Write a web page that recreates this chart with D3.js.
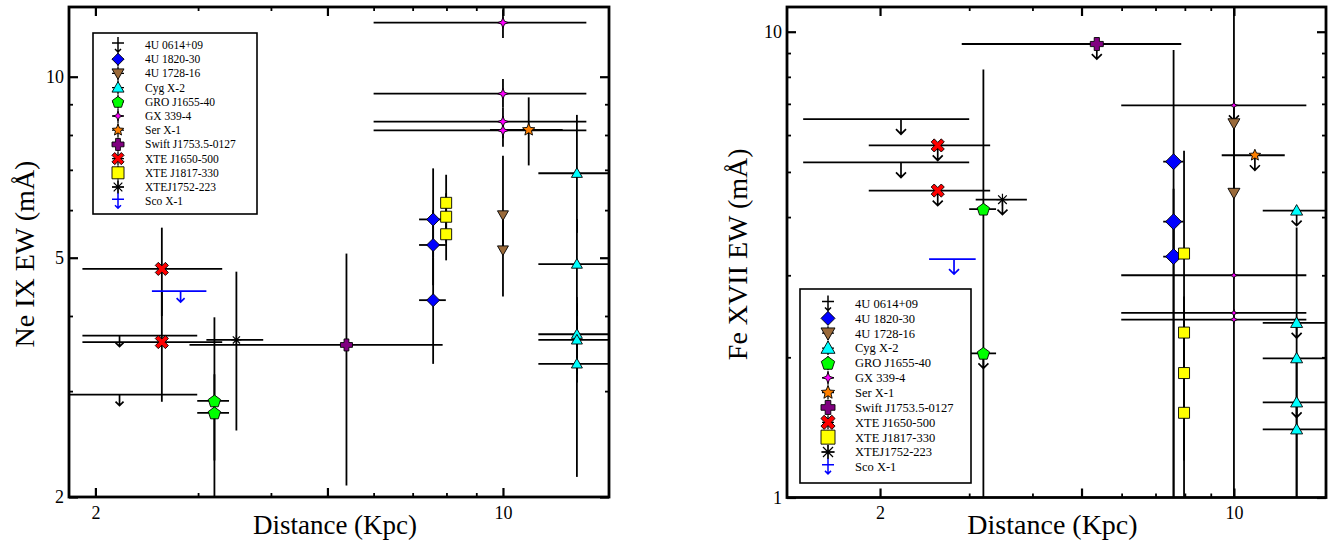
<!DOCTYPE html>
<html>
<head>
<meta charset="utf-8">
<script src="https://cdn.jsdelivr.net/npm/d3@7"></script>
<style>
  body { margin: 0; background: #fff; }
  text { font-family: "Liberation Serif", "Times New Roman", serif; fill: #000; }
</style>
</head>
<body>
<div class="chart"></div>
<script>
// sources, in legend order
const sourceNames = ['4U 0614+09', '4U 1820-30', '4U 1728-16', 'Cyg X-2', 'GRO J1655-40', 'GX 339-4',
  'Ser X-1', 'Swift J1753.5-0127', 'XTE J1650-500', 'XTE J1817-330', 'XTEJ1752-223', 'Sco X-1'];

// Ne IX panel (distance in kpc, EW in mA), upper = 1 means upper limit
const neSrc = ['4U 0614+09', '4U 0614+09', 'XTE J1650-500', 'XTE J1650-500', 'Sco X-1',
  'GRO J1655-40', 'GRO J1655-40', 'XTEJ1752-223', 'Swift J1753.5-0127',
  '4U 1820-30', '4U 1820-30', '4U 1820-30', 'XTE J1817-330', 'XTE J1817-330', 'XTE J1817-330',
  'GX 339-4', 'GX 339-4', 'GX 339-4', 'GX 339-4', '4U 1728-16', '4U 1728-16', 'Ser X-1',
  'Cyg X-2', 'Cyg X-2', 'Cyg X-2', 'Cyg X-2', 'Cyg X-2'];
const neDist   = [2.20, 2.20, 2.60, 2.60, 2.80, 3.20, 3.20, 3.49, 5.39, 7.59, 7.59, 7.59, 7.99, 7.99, 7.99,
  10, 10, 10, 10, 10, 10, 11.07, 13.39, 13.39, 13.39, 13.39, 13.39];
const neDistLo = [1.90, 1.70, 1.90, 1.90, 2.50, 2.99, 2.99, 3.10, 2.90, 7.18, 7.18, 7.18, null, null, null,
  6.0, 6.0, 6.0, 6.0, null, null, 9.50, 11.5, 11.5, 11.5, 11.5, 11.5];
const neDistHi = [2.99, 2.99, 3.30, 3.30, 3.10, 3.39, 3.39, 3.88, 7.88, 7.98, 7.98, 7.98, null, null, null,
  13.9, 13.9, 13.9, 13.9, null, null, 12.66, 16, 16, 16, 16, 16];
const neEW   = [3.71, 2.96, 4.79, 3.62, 4.40, 2.89, 2.76, 3.65, 3.58, 5.79, 5.25, 4.25, 6.17, 5.85, 5.47,
  12.3, 9.37, 8.42, 8.14, 5.89, 5.15, 8.16, 6.91, 4.88, 3.73, 3.65, 3.33];
const neEWLo = [null, null, 4.0, 2.88, null, 2.3, 1.8, 2.58, 2.09, 5.0, 4.5, 3.33, 5.6, 5.3, 4.95,
  11.6, 8.9, 7.9, 7.65, 5.2, 4.31, 7.12, 5.5, 4.0, 3.2, 3.1, 2.16];
const neEWHi = [null, null, 5.61, 4.4, null, 3.98, 3.2, 4.74, 5.08, 7.04, 6.0, 5.0, 6.87, 6.4, 6.0,
  12.93, 9.91, 8.9, 8.6, 7.39, 5.9, 9.24, 8.64, 5.8, 4.3, 4.2, 3.9];
const neUpper = [1, 1, 0, 0, 1, 0, 0, 0, 0, 0, 0, 0, 0, 0, 0, 0, 0, 0, 0, 0, 0, 0, 0, 0, 0, 0, 0];

// Fe XVII panel
const feSrc = ['4U 0614+09', '4U 0614+09', 'XTE J1650-500', 'XTE J1650-500', 'Sco X-1',
  'GRO J1655-40', 'GRO J1655-40', 'XTEJ1752-223', 'Swift J1753.5-0127',
  '4U 1820-30', '4U 1820-30', '4U 1820-30', 'XTE J1817-330', 'XTE J1817-330', 'XTE J1817-330', 'XTE J1817-330',
  'GX 339-4', 'GX 339-4', 'GX 339-4', 'GX 339-4', '4U 1728-16', '4U 1728-16', 'Ser X-1',
  'Cyg X-2', 'Cyg X-2', 'Cyg X-2', 'Cyg X-2', 'Cyg X-2'];
const feDist   = [2.20, 2.20, 2.60, 2.60, 2.80, 3.20, 3.20, 3.49, 5.36, 7.60, 7.60, 7.60, 7.97, 7.97, 7.97, 7.97,
  10, 10, 10, 10, 10, 10, 11.0, 13.3, 13.3, 13.3, 13.3, 13.3];
const feDistLo = [1.41, 1.41, 1.90, 1.90, 2.50, 3.0, 3.0, 3.09, 2.90, 7.25, 7.25, 7.25, null, null, null, null,
  5.99, 5.99, 5.99, 5.99, null, null, 9.46, 11.4, 11.4, 11.4, 11.4, 11.4];
const feDistHi = [3.0, 3.0, 3.30, 3.30, 3.09, 3.39, 3.39, 3.90, 7.87, 7.95, 7.95, 7.95, null, null, null, null,
  13.9, 13.9, 13.9, 13.9, null, null, 12.6, 16, 16, 16, 16, 16];
const feEW   = [6.49, 5.24, 5.70, 4.56, 3.25, 4.16, 2.04, 4.36, 9.41, 5.26, 3.91, 3.29, 3.34, 2.26, 1.85, 1.52,
  6.95, 3.0, 2.49, 2.41, 6.36, 4.51, 5.43, 4.13, 2.37, 1.99, 1.60, 1.40];
const feEWLo = [null, null, null, null, null, 0.8, null, null, null, 0.8, 3.3, 0.8, 0.8, 1.9, 1.5, 1.2,
  null, null, null, null, 4.6, 0.8, null, null, null, 0.8, null, 0.8];
const feEWHi = [null, null, null, null, null, 8.30, null, null, null, 9.14, 4.6, 3.9, 5.55, 2.7, 2.2, 1.8,
  null, null, null, null, 15, 6.3, null, null, null, 3.8, null, 1.99];
const feUpper = [1, 1, 1, 1, 1, 0, 1, 1, 1, 0, 0, 0, 0, 0, 0, 0, 1, 0, 0, 0, 0, 0, 1, 1, 1, 0, 1, 0];

// axis ticks
const xMajor = [2, 5, 10];
const xLabels = [2, 10];
const neYMajor = [2, 5, 10];
const neYLabels = [2, 5, 10];
const feYMajor = [1, 10];
const feYLabels = [1, 10];

// marker styles
const style = {
  '4U 0614+09':         { shape: 'limit',    fill: '#000000', line: '#000000' },
  '4U 1820-30':         { shape: 'diamond',  fill: '#0000ff' },
  '4U 1728-16':         { shape: 'triDown',  fill: '#9a6a3a' },
  'Cyg X-2':            { shape: 'triUp',    fill: '#00ffff' },
  'GRO J1655-40':       { shape: 'pentagon', fill: '#00ff00' },
  'GX 339-4':           { shape: 'star4',    fill: '#ff00ff' },
  'Ser X-1':            { shape: 'star5',    fill: '#ff8000' },
  'Swift J1753.5-0127': { shape: 'plus',     fill: '#800080' },
  'XTE J1650-500':      { shape: 'cross',    fill: '#ff0000' },
  'XTE J1817-330':      { shape: 'square',   fill: '#ffff00' },
  'XTEJ1752-223':       { shape: 'asterisk', fill: 'none' },
  'Sco X-1':            { shape: 'limit',    fill: '#0000ff', line: '#0000ff' }
};

function poly(pts) {
  return 'M' + pts.map(p => p[0].toFixed(2) + ',' + p[1].toFixed(2)).join('L') + 'Z';
}
function starPts(n, ro, ri) {
  const pts = [];
  for (let i = 0; i < 2 * n; i++) {
    const a = -Math.PI / 2 + i * Math.PI / n;
    const r = i % 2 ? ri : ro;
    pts.push([r * Math.cos(a), r * Math.sin(a)]);
  }
  return pts;
}
function shapePath(shape, s) {
  switch (shape) {
    case 'diamond': return `M0,${-s}L${s},0L0,${s}L${-s},0Z`;
    case 'triUp': return `M0,${-s}L${s},${s * 0.75}L${-s},${s * 0.75}Z`;
    case 'triDown': return `M${-s},${-s * 0.75}L${s},${-s * 0.75}L0,${s}Z`;
    case 'square': return `M${-s},${-s}H${s}V${s}H${-s}Z`;
    case 'pentagon': {
      const pts = d3.range(5).map(i => {
        const a = -Math.PI / 2 + i * 2 * Math.PI / 5;
        return [s * Math.cos(a), s * Math.sin(a) + s * 0.1];
      });
      return poly(pts);
    }
    case 'star4': return poly(starPts(4, s, s * 0.38));
    case 'star5': return poly(starPts(5, s, s * 0.45));
    case 'plus': {
      const w = s * 0.4;
      return `M${-w},${-s}H${w}V${-w}H${s}V${w}H${w}V${s}H${-w}V${w}H${-s}V${-w}H${-w}Z`;
    }
    case 'cross': {
      const w = s * 0.3, r = Math.SQRT1_2;
      const pts = [[-w, -s], [w, -s], [w, -w], [s, -w], [s, w], [w, w], [w, s], [-w, s], [-w, w], [-s, w], [-s, -w], [-w, -w]]
        .map(p => [(p[0] - p[1]) * r * 1.1, (p[0] + p[1]) * r * 1.1]);
      return poly(pts);
    }
    case 'asterisk': {
      const k = s * 0.72;
      return `M${-s},0H${s}M0,${-s}V${s}M${-k},${-k}L${k},${k}M${-k},${k}L${k},${-k}`;
    }
  }
  return '';
}

function drawMarker(g, src, x, y, s) {
  const st = style[src];
  if (st.shape === 'limit') return;
  const p = g.append('path')
    .attr('transform', `translate(${x},${y})`)
    .attr('d', shapePath(st.shape, s));
  if (st.shape === 'asterisk') {
    p.attr('fill', 'none').attr('stroke', '#000').attr('stroke-width', 1.2);
  } else {
    p.attr('fill', st.fill).attr('stroke', '#000').attr('stroke-width', 0.9);
  }
}

function drawArrow(g, x, y, len, h, color) {
  g.append('path')
    .attr('d', `M${x},${y}V${y + len}M${x - h},${y + len - h}L${x},${y + len}L${x + h},${y + len - h}`)
    .attr('fill', 'none').attr('stroke', color).attr('stroke-width', 1.7);
}

const svg = d3.select('.chart').append('svg')
  .attr('width', 1341)
  .attr('height', 542);
svg.append('rect').attr('width', 1341).attr('height', 542).attr('fill', '#fff');

const panels = [
  {
    id: 'ne', x0: 69, x1: 609, y0: 7, y1: 497,
    xDomain: [1.802, 15.2], yDomain: [2, 13.06],
    yMajor: neYMajor, yLabels: neYLabels,
    src: neSrc, dist: neDist, distLo: neDistLo, distHi: neDistHi,
    ew: neEW, ewLo: neEWLo, ewHi: neEWHi, upper: neUpper,
    ytitle: 'Ne IX EW (mÅ)', ytitleX: 34, xtitleSize: 27,
    sizes: { diamond: 6.5, triUp: 5.5, triDown: 5.5, square: 5.5, pentagon: 6.5, star4: 5.5, star5: 6.5, plus: 6, cross: 6.5, asterisk: 5 },
    arrowLen: 11, arrowHead: 4,
    legend: { x0: 93, y0: 33, x1: 257, y1: 214, symX: 118, textX: 145, firstY: 45, step: 14.2, font: 11.5, s: 6 }
  },
  {
    id: 'fe', x0: 787, x1: 1326, y0: 7, y1: 497.5,
    xDomain: [1.31, 15.2], yDomain: [1, 11.3],
    yMajor: feYMajor, yLabels: feYLabels,
    src: feSrc, dist: feDist, distLo: feDistLo, distHi: feDistHi,
    ew: feEW, ewLo: feEWLo, ewHi: feEWHi, upper: feUpper,
    ytitle: 'Fe XVII EW (mÅ)', ytitleX: 747, xtitleSize: 28,
    sizes: { diamond: 8, triUp: 6, triDown: 6, square: 5.5, pentagon: 6.5, star4: 3.8, star5: 6, plus: 6.5, cross: 6.5, asterisk: 6 },
    arrowLen: 15, arrowHead: 5,
    legend: { x0: 800, y0: 289, x1: 971, y1: 483, symX: 828, textX: 855, firstY: 303.5, step: 14.85, font: 12.5, s: 7 }
  }
];

panels.forEach(p => {
  const x = d3.scaleLog().domain(p.xDomain).range([p.x0, p.x1]);
  const y = d3.scaleLog().domain(p.yDomain).range([p.y1, p.y0]);
  const w = p.x1 - p.x0, h = p.y1 - p.y0;
  const g = svg.append('g');

  svg.append('clipPath').attr('id', 'clip-' + p.id)
    .append('rect').attr('x', p.x0).attr('y', p.y0).attr('width', w).attr('height', h);

  // data layer
  const data = g.append('g').attr('clip-path', `url(#clip-${p.id})`);
  const bars = data.append('g');
  const marks = data.append('g');
  p.src.forEach((src, i) => {
    const col = style[src].line || '#000';
    const cx = x(p.dist[i]), cy = y(p.ew[i]);
    if (p.distLo[i] != null) {
      bars.append('line')
        .attr('x1', x(p.distLo[i])).attr('x2', x(p.distHi[i]))
        .attr('y1', cy).attr('y2', cy)
        .attr('stroke', col).attr('stroke-width', 1.8);
    }
    if (p.ewLo[i] != null) {
      bars.append('line')
        .attr('x1', cx).attr('x2', cx)
        .attr('y1', y(p.ewLo[i])).attr('y2', y(p.ewHi[i]))
        .attr('stroke', col).attr('stroke-width', 1.8);
    }
    if (p.upper[i]) drawArrow(bars, cx, cy, p.arrowLen, p.arrowHead, col);
    const sh = style[src].shape;
    drawMarker(marks, src, cx, cy, p.sizes[sh]);
  });

  // axes: minor + major ticks on all four sides
  const minor = (sc, majors) => sc.ticks().filter(v => !majors.some(m => Math.abs(m - v) < 1e-9));
  const xMinor = minor(x, xMajor);
  const yMinor = minor(y, p.yMajor);
  const axes = [
    [d3.axisBottom(x), `translate(0,${p.y1})`, xMinor, xMajor, xLabels, 9],
    [d3.axisTop(x), `translate(0,${p.y0})`, xMinor, xMajor, [], 5],
    [d3.axisLeft(y), `translate(${p.x0},0)`, yMinor, p.yMajor, p.yLabels, 5],
    [d3.axisRight(y), `translate(${p.x1},0)`, yMinor, p.yMajor, [], 5]
  ];
  axes.forEach(([ax, tr, mn, mj, lab, pad]) => {
    g.append('g').attr('transform', tr)
      .call(ax.tickValues(mn).tickSize(-4).tickFormat(''))
      .call(a => a.select('.domain').remove())
      .call(a => a.selectAll('line').attr('stroke-width', 1.8));
    g.append('g').attr('transform', tr)
      .call(ax.tickValues(mj).tickSize(-9).tickPadding(pad)
        .tickFormat(d => lab.includes(d) ? d : ''))
      .attr('font-family', '"Liberation Serif", serif').attr('font-size', 18)
      .call(a => a.select('.domain').remove())
      .call(a => a.selectAll('line').attr('stroke-width', 2.2));
  });

  // frame
  g.append('rect')
    .attr('x', p.x0).attr('y', p.y0).attr('width', w).attr('height', h)
    .attr('fill', 'none').attr('stroke', '#000').attr('stroke-width', 2.8);

  // titles
  g.append('text')
    .attr('x', (p.x0 + p.x1) / 2 - 4).attr('y', 534)
    .attr('text-anchor', 'middle').attr('font-size', p.xtitleSize)
    .text('Distance (Kpc)');
  g.append('text')
    .attr('transform', `translate(${p.ytitleX},${(p.y0 + p.y1) / 2 + 2}) rotate(-90)`)
    .attr('text-anchor', 'middle').attr('font-size', 28)
    .text(p.ytitle);

  // legend
  const L = p.legend;
  const lg = g.append('g');
  lg.append('rect')
    .attr('x', L.x0).attr('y', L.y0).attr('width', L.x1 - L.x0).attr('height', L.y1 - L.y0)
    .attr('fill', '#fff').attr('stroke', '#000').attr('stroke-width', 1.6);
  sourceNames.forEach((name, i) => {
    const ly = L.firstY + i * L.step;
    const st = style[name];
    const col = st.line || '#000';
    if (st.shape === 'limit') {
      lg.append('path')
        .attr('d', `M${L.symX},${ly - 8}V${ly + 7}M${L.symX - 6},${ly - 2}H${L.symX + 6}` +
          `M${L.symX - 3},${ly + 4}L${L.symX},${ly + 7}L${L.symX + 3},${ly + 4}`)
        .attr('fill', 'none').attr('stroke', col).attr('stroke-width', 1.5);
    } else {
      lg.append('path')
        .attr('d', `M${L.symX},${ly - 7}V${ly + 7}M${L.symX - 6},${ly}H${L.symX + 6}`)
        .attr('stroke', '#000').attr('stroke-width', 1.3);
      const s = st.shape === 'star4' ? L.s * 0.8 : L.s;
      drawMarker(lg, name, L.symX, ly, s);
    }
    lg.append('text')
      .attr('x', L.textX).attr('y', ly).attr('dy', '0.35em')
      .attr('font-size', L.font)
      .text(name);
  });
});
</script>
</body>
</html>
